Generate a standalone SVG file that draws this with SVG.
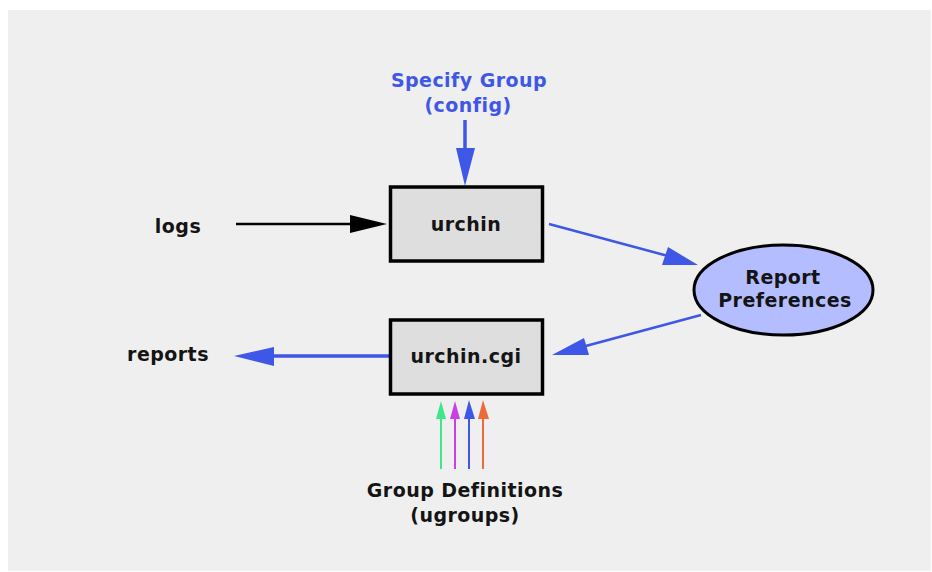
<svg xmlns="http://www.w3.org/2000/svg" width="932" height="572" viewBox="0 0 932 572">
<style>
text{font-family:"DejaVu Sans","Liberation Sans",sans-serif;font-weight:700;font-size:19px;letter-spacing:.45px;fill:#141414;text-anchor:middle}
.box{fill:#dedede;stroke:#000;stroke-width:3.5}
.c{fill:none;stroke-linecap:butt}
</style>
<rect x="0" y="0" width="932" height="572" fill="#fff"/>
<rect x="8" y="10" width="923" height="561" fill="#efefef"/>
<g id="connectors">
<line class="c" x1="465" y1="120" x2="465" y2="150" stroke="#3f57e6" stroke-width="3.500"/>
<polygon points="456,148 475,148 465,186" fill="#3f57e6"/>
<line class="c" x1="236" y1="224" x2="352" y2="224" stroke="#000" stroke-width="2.500"/>
<polygon points="350,215 350,233 387,224" fill="#000"/>
<line class="c" x1="549" y1="224" x2="668" y2="256" stroke="#3f57e6" stroke-width="2.500"/>
<polygon points="668,247 662,265 698,265" fill="#3f57e6"/>
<line class="c" x1="701" y1="315" x2="582" y2="347" stroke="#3f57e6" stroke-width="2.500"/>
<polygon points="552,355 584,338 589,355" fill="#3f57e6"/>
<line class="c" x1="389" y1="356" x2="272" y2="356" stroke="#3f57e6" stroke-width="3.500"/>
<polygon points="234,356 274,347 274,366" fill="#3f57e6"/>
<line class="c" x1="441" y1="469" x2="441" y2="415" stroke="#3fe68a" stroke-width="2"/>
<polygon points="441,401 436,419 446,419" fill="#3fe68a"/>
<line class="c" x1="455" y1="469" x2="455" y2="415" stroke="#c93fe6" stroke-width="2"/>
<polygon points="455,401 450,419 460,419" fill="#c93fe6"/>
<line class="c" x1="469" y1="469" x2="469" y2="415" stroke="#3f57e6" stroke-width="2"/>
<polygon points="469,400 464,419 475,419" fill="#3f57e6"/>
<line class="c" x1="483" y1="469" x2="483" y2="415" stroke="#ec6a3c" stroke-width="2"/>
<polygon points="483,400 478,419 489,419" fill="#ec6a3c"/>
</g>
<g id="urchin">
<rect class="box" x="390.500" y="187" width="152" height="74"/>
<text x="466" y="231">urchin</text>
</g>
<g id="urchin-cgi">
<rect class="box" x="390.500" y="320" width="152" height="74"/>
<text x="466" y="363">urchin.cgi</text>
</g>
<g id="report-preferences">
<ellipse cx="783.500" cy="290" rx="89.500" ry="45" fill="#b3bdff" stroke="#000" stroke-width="3"/>
<text x="783" y="284">Report</text>
<text x="785" y="307">Preferences</text>
</g>
<g id="specify-group">
<text x="469" y="87" style="fill:#3f57e6">Specify Group</text>
<text x="468" y="112" style="fill:#3f57e6">(config)</text>
</g>
<g id="logs"><text x="178" y="233">logs</text></g>
<g id="reports"><text x="168" y="361">reports</text></g>
<g id="group-definitions">
<text x="465" y="497">Group Definitions</text>
<text x="465" y="522">(ugroups)</text>
</g>
</svg>
